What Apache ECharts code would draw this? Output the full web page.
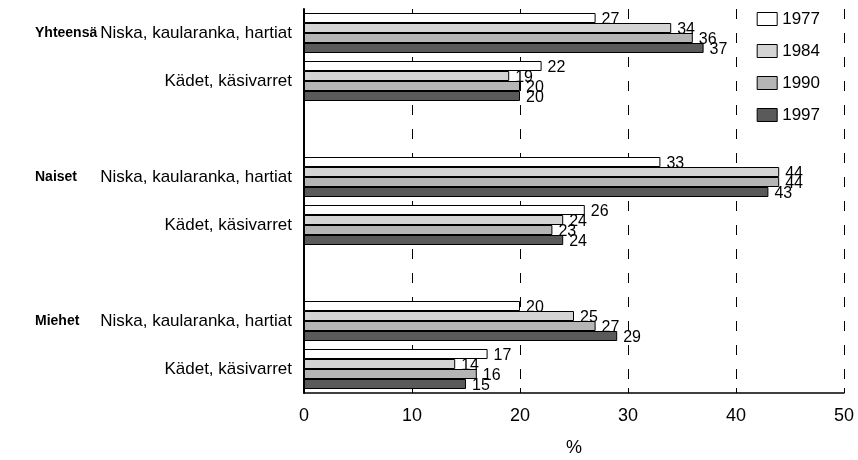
<!DOCTYPE html>
<html>
<head>
<meta charset="utf-8">
<script src="https://cdn.jsdelivr.net/npm/echarts@6/dist/echarts.min.js"></script>
<style>
  html, body { margin: 0; padding: 0; background: #fff; }
  #chart { width: 858px; height: 460px; }
</style>
</head>
<body>
<div id="chart"></div>
<script>
// rivit ylhäältä alas, tyhjät rivit ryhmien välissä
var categories = ['Niska, kaularanka, hartiat', 'Kädet, käsivarret', '',
  'Niska, kaularanka, hartiat', 'Kädet, käsivarret', '',
  'Niska, kaularanka, hartiat', 'Kädet, käsivarret'];
var groups = ['Yhteensä', '', '', 'Naiset', '', '', 'Miehet', ''];
var years = ['1977', '1984', '1990', '1997'];

var v1977 = [27, 22, '-', 33, 26, '-', 20, 17];
var v1984 = [34, 19, '-', 44, 24, '-', 25, 14];
var v1990 = [36, 20, '-', 44, 23, '-', 27, 16];
var v1997 = [37, 20, '-', 43, 24, '-', 29, 15];

var xTicks = [0, 10, 20, 30, 40, 50];

var colors = ['#ffffff', '#d4d4d4', '#b5b5b5', '#5a5a5a'];
var font = "'Liberation Sans', Arial, sans-serif";

var chart = echarts.init(document.getElementById('chart'));

function makeSeries(name, data, idx) {
  return {
    name: name,
    type: 'bar',
    data: data,
    barWidth: 10,
    barGap: '0%',
    barCategoryGap: '16%',
    itemStyle: {
      color: colors[idx],
      borderColor: '#000',
      borderWidth: 1
    },
    label: {
      show: true,
      position: 'right',
      distance: 6,
      offset: [0, 2],
      color: '#000',
      fontFamily: font,
      fontSize: 16
    },
    z: 2
  };
}

var option = {
  backgroundColor: '#fff',
  animation: false,
  textStyle: { fontFamily: font },
  grid: {
    left: 304,
    right: 14,
    top: 9,
    bottom: 67,
    outerBoundsMode: 'none'
  },
  legend: {
    orient: 'vertical',
    right: 33,
    top: 4,
    itemWidth: 20,
    itemHeight: 13,
    itemGap: 12,
    icon: 'rect',
    itemStyle: { borderWidth: 1 },
    textStyle: {
      fontFamily: font,
      fontSize: 17,
      color: '#000',
      lineHeight: 20
    },
    data: years
  },
  xAxis: {
    type: 'value',
    min: 0,
    max: 50,
    interval: 10,
    name: '%',
    nameLocation: 'middle',
    nameGap: 46,
    nameTextStyle: { color: '#000', fontSize: 18, fontFamily: font },
    axisLine: { show: true, lineStyle: { color: '#000', width: 1.5 } },
    axisTick: { show: true, inside: true, length: 5, lineStyle: { color: '#000' } },
    axisLabel: {
      color: '#000',
      fontSize: 18,
      margin: 14,
      fontFamily: font,
      formatter: function (v) {
        return xTicks.indexOf(v) > -1 ? String(v) : '';
      }
    },
    splitLine: {
      show: true,
      lineStyle: { color: '#000', type: [10, 14], width: 1 }
    }
  },
  yAxis: [{
    type: 'category',
    data: categories,
    inverse: true,
    axisLine: { show: true, lineStyle: { color: '#000', width: 2 } },
    axisTick: { show: false },
    axisLabel: {
      color: '#000',
      fontSize: 17,
      margin: 12,
      fontFamily: font
    },
    splitLine: { show: false }
  }, {
    type: 'category',
    data: groups,
    inverse: true,
    position: 'left',
    axisLine: { show: false },
    axisTick: { show: false },
    axisLabel: {
      color: '#000',
      fontSize: 14,
      fontWeight: 'bold',
      align: 'left',
      margin: 269,
      fontFamily: font
    },
    splitLine: { show: false }
  }],
  series: [
    makeSeries(years[0], v1977, 0),
    makeSeries(years[1], v1984, 1),
    makeSeries(years[2], v1990, 2),
    makeSeries(years[3], v1997, 3)
  ]
};

chart.setOption(option);
</script>
</body>
</html>
